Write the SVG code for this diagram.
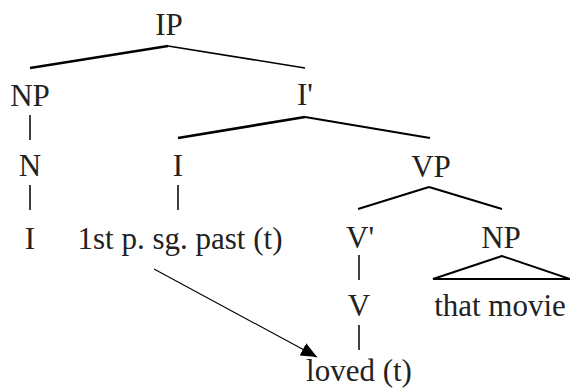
<svg xmlns="http://www.w3.org/2000/svg" width="570" height="389" viewBox="0 0 570 389">
<style>
text{font-family:"Liberation Serif","Times New Roman",serif;font-size:31px;fill:#222;text-anchor:middle}
.e{stroke:#000;fill:none;stroke-linecap:butt}
.thick{stroke-width:2.6}
.med{stroke-width:2}
.thin{stroke-width:1.5}
.arr{stroke:#000;stroke-width:1.1;fill:none}
</style>
<defs>
<marker id="ah" markerUnits="userSpaceOnUse" markerWidth="17" markerHeight="15" refX="16" refY="7" orient="auto">
<path d="M0,0 L16,7 L0,14 z" fill="#000"/>
</marker>
</defs>
<rect width="570" height="389" fill="#fff"/>
<g id="connectors">
<line class="e thick" x1="168" y1="46" x2="30" y2="68"/>
<line class="e thin" x1="168" y1="46" x2="305" y2="68"/>
<line class="e thin" x1="30" y1="115" x2="30" y2="140"/>
<line class="e thick" x1="305" y1="117" x2="178" y2="138"/>
<line class="e med" x1="305" y1="117" x2="430" y2="138"/>
<line class="e thin" x1="30" y1="185" x2="30" y2="210"/>
<line class="e thin" x1="178" y1="185" x2="178" y2="210"/>
<line class="e med" x1="429" y1="187" x2="358" y2="209"/>
<line class="e med" x1="429" y1="187" x2="502" y2="209"/>
<line class="e thin" x1="359" y1="255" x2="359" y2="280"/>
<polygon class="e med" points="502,256 433,279 570,279"/>
<line class="e thin" x1="359" y1="325" x2="359" y2="350"/>
<line class="arr" x1="154" y1="269" x2="317" y2="357" marker-end="url(#ah)"/>
</g>
<g id="IP"><text x="169" y="35">IP</text></g>
<g id="NP1"><text x="30" y="106">NP</text></g>
<g id="Ibar"><text x="305" y="105">I'</text></g>
<g id="N"><text x="30" y="176">N</text></g>
<g id="I"><text x="178" y="176">I</text></g>
<g id="VP"><text x="431" y="177">VP</text></g>
<g id="Ileaf"><text x="30" y="249">I</text></g>
<g id="infl"><text x="180" y="249">1st p. sg. past (t)</text></g>
<g id="Vbar"><text x="360" y="248">V'</text></g>
<g id="NP2"><text x="501" y="248">NP</text></g>
<g id="V"><text x="359" y="316">V</text></g>
<g id="obj"><text x="500" y="316">that movie</text></g>
<g id="loved"><text x="359" y="381">loved (t)</text></g>
</svg>
